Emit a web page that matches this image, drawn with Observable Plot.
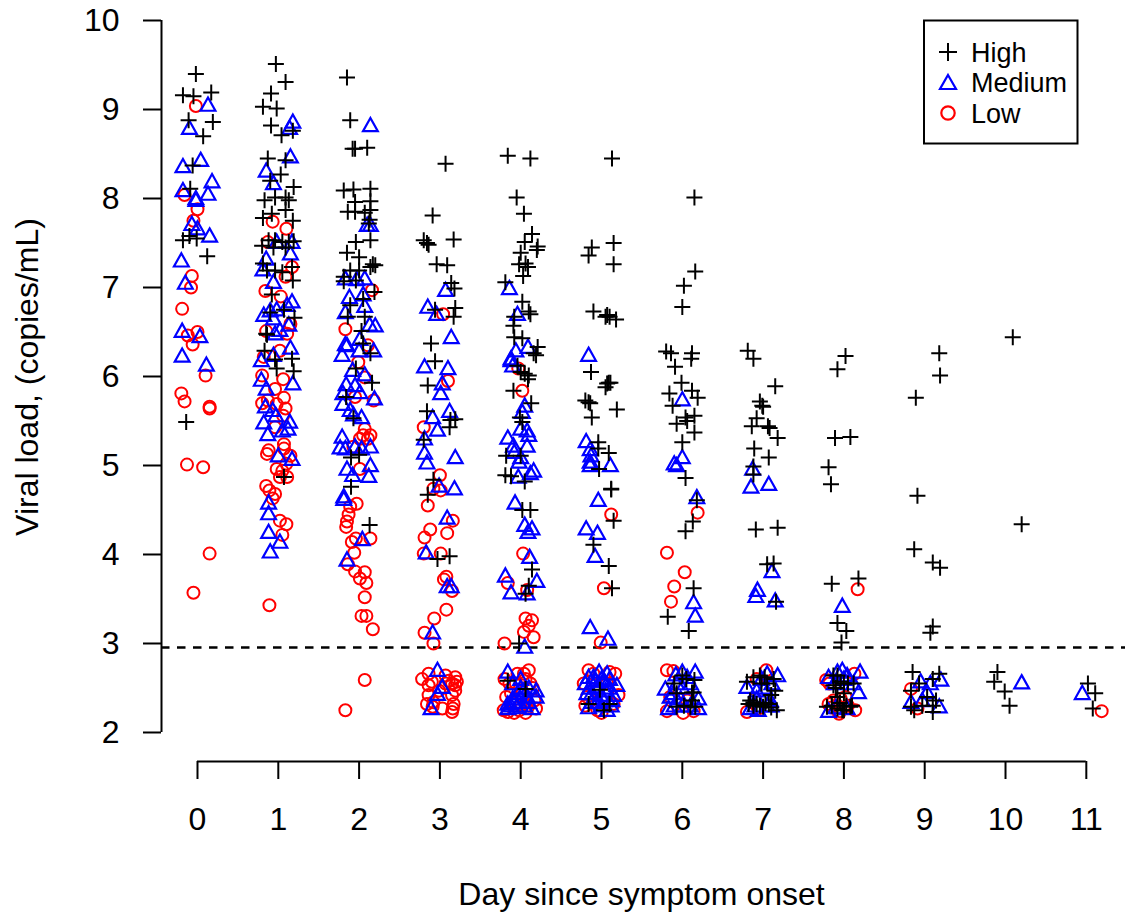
<!DOCTYPE html>
<html><head><meta charset="utf-8">
<style>html,body{margin:0;padding:0;background:#fff}svg{display:block}</style>
<script src="https://cdn.jsdelivr.net/npm/d3@7"></script>
<script src="https://cdn.jsdelivr.net/npm/@observablehq/plot@0.6"></script>
</head><body><div id="chart"></div>
<script>
const days = [0,1,2,3,4,5,6,7,8,9,10,11];
const yTicks = [2,3,4,5,6,7,8,9,10];
const threshold = 2.955;
const groupNames = ["High","Medium","Low"];
const yLabel = "Viral load, (copies/mL)";
const xLabel = "Day since symptom onset";

// each entry: [jitter around the day, viral load]
const highDay0 = [[-.02,9.40],[-.18,9.16],[-.05,9.15],[.17,9.19],[-.11,8.88],[.19,8.86],[.07,8.70],[-.06,8.37],[-.09,8.11],[-.18,7.53],[-.10,7.58],[-.01,7.55],[.12,7.35],[-.14,5.49]];
const mediumDay0 = [[.13,9.05],[-.10,8.79],[.04,8.43],[-.18,8.36],[.18,8.19],[-.18,8.09],[.13,8.05],[-.02,8.00],[-.02,7.98],[-.07,7.71],[0,7.66],[.15,7.58],[-.20,7.30],[-.15,7.05],[-.19,6.51],[.03,6.45],[-.19,6.23],[.11,6.13]];
const lowDay0 = [[-.02,9.04],[-.16,8.04],[0,7.88],[-.05,7.75],[-.07,7.13],[-.08,7.00],[-.19,6.76],[-.12,6.46],[0,6.50],[-.06,6.36],[.10,6.01],[-.20,5.81],[-.16,5.72],[.15,5.66],[.15,5.64],[-.13,5.01],[.07,4.98],[.15,4.01],[-.05,3.57]];

const highDay1 = [[-.03,9.51],[.09,9.31],[-.09,9.18],[-.19,9.03],[-.02,9.01],[-.09,8.82],[.04,8.71],[.18,8.76],[-.13,8.45],[.09,8.43],[.03,8.27],[-.10,8.20],[.19,8.13],[-.17,7.98],[-.04,8.01],[.09,8.01],[.13,7.98],[-.19,7.78],[-.08,7.83],[.09,7.87],[.18,7.75],[-.20,7.47],[-.12,7.53],[-.04,7.53],[.05,7.51],[.13,7.51],[.19,7.52],[-.06,7.45],[.09,7.45],[-.14,7.19],[-.04,7.19],[.05,7.17],[.17,7.23],[.18,7.08],[-.19,7.27],[-.08,6.92],[.07,6.75],[-.10,6.72],[.20,6.66],[-.15,6.48],[-.14,6.47],[-.17,6.29],[-.04,6.19],[.17,6.20],[-.02,6.09],[.19,6.06],[.07,4.87]];
const mediumDay1 = [[.18,8.86],[.14,8.79],[.15,8.47],[-.15,8.31],[-.06,8.17],[.17,7.51],[.15,7.38],[-.02,7.51],[-.15,7.32],[-.19,7.20],[-.06,7.06],[.17,6.84],[.11,6.80],[-.10,6.74],[-.18,6.69],[-.02,6.75],[-.06,6.65],[.02,6.52],[.13,6.58],[-.04,6.48],[.15,6.32],[-.21,6.18],[-.06,6.24],[-.21,5.96],[-.15,5.86],[.18,5.92],[-.16,5.66],[-.07,5.62],[-.03,5.56],[.14,5.49],[-.18,5.48],[-.13,5.35],[.05,5.39],[.12,5.41],[0,5.11],[.17,5.07],[-.12,4.58],[-.12,4.46],[-.12,4.25],[.02,4.14],[-.10,4.03]];
const lowDay1 = [[-.07,7.74],[.10,7.66],[-.13,7.51],[.17,7.23],[.09,7.12],[-.16,6.96],[.03,6.90],[.15,6.59],[-.15,6.51],[.11,6.48],[-.18,6.22],[.02,6.29],[-.20,6.01],[-.04,5.86],[.06,5.97],[.07,5.76],[-.20,5.70],[-.13,5.73],[-.02,5.69],[.09,5.64],[.06,5.56],[-.04,5.43],[.07,5.24],[.07,5.19],[-.12,5.17],[-.14,5.13],[.15,5.11],[-.02,4.96],[.10,5.02],[.05,4.94],[.11,4.87],[.02,4.87],[-.15,4.77],[-.11,4.72],[-.04,4.68],[-.07,4.63],[.02,4.38],[.10,4.34],[.05,4.22],[-.11,3.43]];

const highDay2 = [[-.15,9.36],[-.11,8.88],[-.08,8.56],[-.05,8.56],[.10,8.57],[-.19,8.09],[-.07,8.10],[.14,8.11],[-.05,7.96],[.14,7.97],[-.14,7.85],[-.05,7.85],[.07,7.84],[.14,7.87],[.13,7.76],[.12,7.72],[-.04,7.51],[.14,7.53],[-.15,7.39],[0,7.34],[.17,7.26],[.14,7.23],[.20,7.25],[-.11,7.19],[0,7.19],[-.19,7.12],[-.19,7.07],[-.04,7.08],[.19,6.95],[.05,6.87],[-.11,6.80],[-.14,6.67],[.07,6.67],[.03,6.51],[.05,6.37],[.14,6.26],[-.04,6.09],[.16,5.93],[-.16,5.77],[-.07,5.53],[-.10,5.09],[0,5.12],[-.10,4.76],[.13,4.33]];
const mediumDay2 = [[.14,8.82],[.10,7.70],[.14,7.70],[-.17,7.10],[-.03,7.09],[.07,7.10],[-.12,6.89],[.05,6.92],[.07,6.79],[-.17,6.72],[.13,6.58],[.20,6.57],[.01,6.42],[-.17,6.36],[-.15,6.35],[.18,6.29],[0,6.29],[-.21,6.24],[-.08,6.07],[.07,6.02],[-.16,5.91],[-.05,5.90],[.01,5.82],[-.20,5.81],[.19,5.75],[-.20,5.69],[-.11,5.62],[-.07,5.57],[.03,5.54],[-.21,5.32],[-.235,5.20],[-.17,5.19],[-.05,5.21],[.03,5.19],[.14,5.21],[-.15,4.96],[-.08,4.89],[.14,5.00],[.12,4.88],[-.19,4.65],[-.19,4.62],[.04,4.17],[-.15,3.94]];
const lowDay2 = [[.16,6.97],[-.17,6.53],[.11,6.35],[-.01,6.16],[.07,5.99],[-.05,5.77],[.18,5.73],[.07,5.41],[.05,5.34],[.14,5.34],[.01,5.30],[.11,5.30],[-.07,5.21],[.01,4.96],[-.03,4.57],[-.11,4.54],[-.13,4.45],[-.15,4.37],[-.16,4.31],[-.09,4.14],[-.04,4.18],[.14,4.18],[-.06,4.02],[-.14,3.89],[-.05,3.81],[.07,3.80],[.01,3.73],[.09,3.68],[.07,3.52],[.03,3.31],[.09,3.31],[.17,3.16],[.07,2.59],[-.17,2.25]];

const highDay3 = [[.07,8.39],[-.09,7.81],[-.20,7.53],[-.16,7.50],[-.14,7.48],[.17,7.54],[-.04,7.26],[.09,7.25],[.14,7.05],[.18,6.99],[-.06,6.75],[.19,6.77],[.17,6.67],[-.11,6.37],[-.06,6.17],[-.15,5.90],[-.16,5.61],[.13,5.51],[.19,5.52],[.12,5.43],[-.20,5.29],[-.08,4.84],[-.15,4.67],[-.03,3.95],[.12,3.98]];
const mediumDay3 = [[.07,6.97],[-.15,6.78],[-.04,6.70],[.14,6.44],[-.19,6.11],[.10,6.09],[.03,5.92],[.01,5.81],[.12,5.61],[-.09,5.54],[-.03,5.40],[-.19,5.30],[-.19,5.14],[.19,5.09],[-.16,5.03],[-.01,4.77],[.18,4.74],[.09,4.41],[-.17,4.02],[.09,3.64],[.14,3.64],[-.09,3.12],[-.03,2.70],[.03,2.51],[-.03,2.43],[-.11,2.27]];
const lowDay3 = [[.04,6.70],[.10,5.95],[-.20,5.43],[0,4.89],[-.08,4.74],[.01,4.72],[-.15,4.55],[.16,4.38],[-.12,4.28],[-.19,4.19],[.09,4.24],[-.20,4.01],[.01,4.01],[.08,3.75],[.05,3.72],[.15,3.59],[.08,3.38],[-.07,3.28],[-.19,3.12],[-.08,3.00],[-.22,2.60],[-.14,2.66],[.07,2.64],[.19,2.62],[-.10,2.57],[-.14,2.53],[.07,2.55],[.15,2.55],[.19,2.53],[-.14,2.42],[.19,2.47],[.15,2.42],[.03,2.27],[-.16,2.32],[-.08,2.34],[.17,2.32],[.16,2.27],[.15,2.23],[-.09,2.29],[-.01,2.47],[.21,2.57],[.11,2.58]];

const highDay4 = [[-.16,8.48],[.12,8.45],[-.05,8.01],[.04,7.83],[.14,7.60],[.05,7.51],[.21,7.46],[.20,7.42],[0,7.39],[.06,7.27],[-.02,7.26],[.09,7.23],[.03,7.13],[-.19,7.06],[.02,6.84],[.10,6.73],[.12,6.70],[-.08,6.67],[-.09,6.57],[-.08,6.44],[.02,6.43],[.21,6.33],[.16,6.26],[.19,6.24],[-.04,6.12],[0,6.05],[.05,6.03],[.10,6.01],[.09,5.97],[-.09,5.84],[.13,5.70],[-.01,5.54],[.02,5.49],[-.18,5.11],[0,5.11],[-.19,4.89],[-.12,4.88],[.05,4.82],[.02,4.50],[.12,4.50],[.14,3.83],[.10,3.65],[.06,3.56],[-.02,3.00],[-.16,2.58],[.06,2.49]];
const mediumDay4 = [[-.14,6.99],[-.04,6.70],[.09,6.33],[-.06,6.29],[-.12,6.20],[-.12,6.18],[-.10,6.12],[.05,5.67],[.02,5.60],[0,5.41],[.08,5.39],[-.16,5.31],[.10,5.34],[-.09,5.22],[.08,5.22],[-.08,5.15],[0,5.09],[-.02,5.04],[-.03,4.87],[.16,4.94],[.12,4.91],[-.07,4.58],[.05,4.33],[.14,4.29],[.09,4.25],[.11,3.97],[-.19,3.76],[.20,3.70],[-.12,3.57],[.08,3.56],[.05,2.96],[-.16,2.68],[0,2.60],[.19,2.47],[-.04,2.44],[-.10,2.38],[.08,2.40],[.19,2.40],[-.16,2.32],[-.08,2.34],[-.16,2.27],[.14,2.27],[.04,2.47],[-.02,2.34],[-.10,2.55],[-.12,2.30],[-.05,2.28],[.05,2.30],[.10,2.34],[0,2.50],[.10,2.50]];
const lowDay4 = [[-.03,6.09],[.02,5.84],[.03,4.01],[-.16,3.68],[.08,3.60],[.06,3.28],[.14,3.26],[.10,3.20],[.04,3.13],[.16,3.07],[-.20,3.00],[.10,2.70],[-.04,2.66],[.04,2.66],[.06,2.60],[-.20,2.60],[-.06,2.55],[.12,2.55],[.17,2.36],[-.21,2.25],[-.08,2.22],[.06,2.22],[-.16,2.23],[-.02,2.25],[.19,2.27],[-.12,2.44],[0,2.42],[-.14,2.55],[-.18,2.40],[.10,2.30],[0,2.30],[.15,2.50]];

const highDay5 = [[.13,8.45],[-.12,7.45],[.15,7.50],[-.16,7.36],[.15,7.26],[-.10,6.73],[.05,6.67],[.07,6.69],[.10,6.67],[.18,6.64],[-.13,6.05],[.05,5.88],[.07,5.92],[.09,5.93],[.11,5.93],[-.20,5.73],[-.16,5.71],[-.14,5.70],[.19,5.63],[-.12,5.54],[-.04,5.26],[.09,5.14],[-.03,4.96],[-.04,5.19],[.12,4.74],[.12,4.73],[.15,4.38],[-.10,4.11],[.09,3.87],[.13,3.62],[-.02,2.48],[-.16,2.32],[.03,2.25],[.10,2.32]];
const mediumDay5 = [[-.16,6.24],[-.19,5.27],[-.14,5.18],[-.13,5.11],[-.14,5.04],[-.14,5.00],[.11,5.00],[-.04,4.61],[-.19,4.29],[-.05,4.24],[-.08,3.98],[-.14,3.18],[.08,3.05],[-.03,2.68],[-.16,2.62],[.07,2.66],[.19,2.53],[-.20,2.55],[-.07,2.58],[.03,2.58],[-.12,2.44],[-.01,2.42],[.15,2.42],[-.18,2.44],[-.05,2.34],[.07,2.25],[.13,2.36],[-.12,2.34],[.05,2.47],[-.10,2.62],[0,2.60],[.10,2.60],[-.15,2.50],[-.05,2.50],[.10,2.50],[-.10,2.38],[.03,2.36],[-.16,2.28],[0,2.30],[.12,2.30]];
const lowDay5 = [[.12,4.45],[.03,3.62],[-.01,3.01],[-.16,2.70],[.17,2.66],[-.22,2.55],[.21,2.42],[-.05,2.25],[0,2.22],[-.18,2.40],[.15,2.32],[.07,2.55],[-.07,2.47],[-.10,2.66],[.10,2.68],[-.20,2.30]];

const highDay6 = [[.15,8.01],[.16,7.18],[.02,7.02],[0,6.78],[-.20,6.28],[-.14,6.26],[.12,6.26],[.11,6.20],[-.09,6.11],[-.01,5.93],[-.16,5.81],[.12,5.84],[.19,5.76],[-.12,5.67],[.15,5.56],[.04,5.54],[-.07,5.47],[.06,5.50],[.15,5.37],[0,5.26],[.04,4.86],[.18,4.61],[.13,4.37],[.04,4.26],[.14,3.62],[-.18,3.30],[.08,3.14],[0,2.64],[.15,2.59],[-.07,2.44],[.14,2.45],[.12,2.36],[-.07,2.29],[.16,2.29],[.10,2.29],[-.10,2.55],[.05,2.60],[.02,2.30],[.12,2.45]];
const mediumDay6 = [[0,5.74],[0,5.09],[-.10,5.02],[-.07,5.00],[.18,4.64],[.14,3.46],[.16,3.31],[.16,2.68],[0,2.68],[-.21,2.49],[-.07,2.55],[.06,2.62],[-.11,2.44],[.20,2.38],[-.17,2.27],[.20,2.27],[-.02,2.38],[-.08,2.65],[-.15,2.40],[0,2.50],[.10,2.55],[0,2.30],[.10,2.30],[-.10,2.30]];
const lowDay6 = [[.19,4.47],[-.19,4.02],[.03,3.80],[-.10,3.64],[-.14,3.47],[-.19,2.70],[-.11,2.69],[-.19,2.24],[.01,2.22],[.14,2.24],[-.15,2.40],[.06,2.36]];

const highDay7 = [[-.19,6.29],[-.12,6.20],[.15,5.89],[-.04,5.72],[-.01,5.67],[0,5.66],[-.08,5.53],[-.14,5.44],[.06,5.44],[.08,5.42],[.18,5.31],[-.11,5.19],[.07,5.09],[-.12,4.99],[-.12,4.90],[-.09,4.28],[.18,4.30],[.05,3.89],[.13,3.90],[.16,3.47],[-.20,2.57],[-.04,2.64],[.02,2.62],[.13,2.60],[.15,2.47],[-.18,2.32],[-.12,2.34],[-.08,2.32],[.07,2.32],[.17,2.25],[-.16,2.36],[0,2.29],[-.12,2.62],[-.02,2.55],[.05,2.55],[-.12,2.30],[-.04,2.30],[.03,2.33],[.10,2.42],[.10,2.28]];
const mediumDay7 = [[-.13,4.96],[-.15,4.76],[.07,4.79],[.11,3.81],[-.07,3.60],[-.09,3.53],[.15,3.48],[.05,2.66],[.18,2.64],[-.20,2.51],[-.08,2.47],[.11,2.55],[-.16,2.27],[-.06,2.25],[.09,2.36],[-.08,2.38],[-.02,2.60],[.02,2.50],[-.10,2.30],[.05,2.30],[.10,2.30]];
const lowDay7 = [[.04,2.70],[-.08,2.60],[-.20,2.23],[-.06,2.27],[-.10,2.38]];

const highDay8 = [[.02,6.23],[-.08,6.08],[-.11,5.31],[.08,5.32],[-.19,4.98],[-.16,4.79],[-.15,3.67],[.18,3.73],[-.08,3.23],[.03,3.14],[-.03,3.01],[-.13,2.64],[.12,2.55],[-.13,2.53],[0,2.44],[-.21,2.29],[-.08,2.27],[0,2.25],[.08,2.29],[-.04,2.57],[-.08,2.64],[-.10,2.50],[.05,2.55],[-.15,2.30],[-.05,2.33],[.03,2.30],[-.02,2.25],[.10,2.30],[-.08,2.40],[0,2.55]];
const mediumDay8 = [[-.02,3.42],[-.08,2.68],[.20,2.68],[-.19,2.62],[.04,2.64],[.18,2.45],[-.19,2.24],[-.02,2.70],[.04,2.27],[-.12,2.55],[.12,2.55],[0,2.60],[-.10,2.28]];
const lowDay8 = [[.17,3.61],[.13,2.66],[-.22,2.59],[-.19,2.32],[-.04,2.38],[.02,2.40],[-.06,2.21],[.14,2.25],[-.13,2.36],[-.15,2.28],[-.18,2.55],[-.05,2.24],[.05,2.30]];

const highDay9 = [[.18,6.26],[.19,6.01],[-.11,5.76],[-.09,4.66],[-.13,4.06],[.10,3.91],[.19,3.85],[.10,3.19],[.07,3.12],[-.15,2.68],[.18,2.66],[.10,2.60],[-.07,2.55],[-.17,2.47],[.03,2.40],[.14,2.36],[-.17,2.29],[-.03,2.30],[-.13,2.25],[.10,2.23],[.10,2.30]];
const mediumDay9 = [[.20,2.59],[-.05,2.57],[.07,2.55],[.03,2.45],[-.17,2.34],[.18,2.29],[-.03,2.36]];
const lowDay9 = [[-.17,2.49],[-.09,2.27]];

const highDay10 = [[.09,6.44],[.20,4.34],[-.10,2.68],[-.14,2.57],[-.01,2.46],[.05,2.30]];
const mediumDay10 = [[.20,2.56]];
const lowDay10 = [];

const highDay11 = [[.02,2.55],[.11,2.44],[.08,2.27]];
const mediumDay11 = [[-.05,2.44]];
const lowDay11 = [[.19,2.24]];

const highByDay = [highDay0,highDay1,highDay2,highDay3,highDay4,highDay5,highDay6,highDay7,highDay8,highDay9,highDay10,highDay11];
const mediumByDay = [mediumDay0,mediumDay1,mediumDay2,mediumDay3,mediumDay4,mediumDay5,mediumDay6,mediumDay7,mediumDay8,mediumDay9,mediumDay10,mediumDay11];
const lowByDay = [lowDay0,lowDay1,lowDay2,lowDay3,lowDay4,lowDay5,lowDay6,lowDay7,lowDay8,lowDay9,lowDay10,lowDay11];

const flatten = byDay => byDay.flatMap((pts, d) => pts.map(([j, v]) => ({x: days[d] + j, y: v})));

const plusSym = {draw(c){c.moveTo(-8,0);c.lineTo(8,0);c.moveTo(0,-8);c.lineTo(0,8);}};
const triSym = {draw(c){c.moveTo(0,-7.5);c.lineTo(7.4,5.7);c.lineTo(-7.4,5.7);c.closePath();}};
const circSym = {draw(c){c.moveTo(6,0);c.arc(0,0,6,0,2*Math.PI);}};

const xMin = -0.4455, xMax = 11.485, yBase = 1.674;
const font = "'Liberation Sans', Arial, Helvetica, sans-serif";
const textSize = 32;

const plot = Plot.plot({
  width: 1131, height: 913,
  marginLeft: 161, marginRight: 6, marginTop: 20, marginBottom: 152,
  style: {fontFamily: font, background: "#fff", color: "#000"},
  x: {domain: [xMin, xMax]},
  y: {domain: [yBase, 10]},
  marks: [
    Plot.ruleY([threshold], {stroke: "#000", strokeWidth: 2.4, strokeDasharray: "8.5 7.5"}),
    Plot.dot(flatten(lowByDay), {x: "x", y: "y", symbol: circSym, fill: "none", stroke: "#ff0000", strokeWidth: 2}),
    Plot.dot(flatten(mediumByDay), {x: "x", y: "y", symbol: triSym, fill: "none", stroke: "#0000ff", strokeWidth: 2.2}),
    Plot.dot(flatten(highByDay), {x: "x", y: "y", symbol: plusSym, fill: "none", stroke: "#000", strokeWidth: 2}),
    Plot.ruleX([xMin], {y1: yTicks[0], y2: yTicks[yTicks.length - 1], stroke: "#000", strokeWidth: 2}),
    Plot.ruleY([yBase], {x1: days[0], x2: days[days.length - 1], stroke: "#000", strokeWidth: 2}),
    Plot.axisY({ticks: yTicks, tickSize: 18, tickPadding: 24, fontSize: textSize, label: null, stroke: "#000", strokeWidth: 2, tickFormat: d => d}),
    Plot.axisX({ticks: days, tickSize: 18, tickPadding: 28, fontSize: textSize, label: null, stroke: "#000", strokeWidth: 2, tickFormat: d => d}),
    Plot.text([yLabel], {frameAnchor: "left", textAnchor: "middle", dx: -134, dy: -14, rotate: -90, fontSize: textSize, fill: "#000"}),
    Plot.text([xLabel], {frameAnchor: "bottom", dx: -2, dy: 143, fontSize: textSize, fill: "#000"})
  ]
});

// legend box, top right
const svg = d3.select(plot);
const legend = svg.append("g").attr("font-family", font).attr("font-size", 27).attr("fill", "#000").attr("text-anchor", "start");
legend.append("rect").attr("x", 924).attr("y", 20.5).attr("width", 153.5).attr("height", 123).attr("fill", "#fff").attr("stroke", "#000").attr("stroke-width", 2);
const legendPaths = [
  {p: "M-9,0H9M0,-9V9", s: "#000", w: 2},
  {p: "M0,-7.5L8,6.5H-8Z", s: "#0000ff", w: 2.2},
  {p: "M6.7,0A6.7,6.7 0 1 1 -6.7,0A6.7,6.7 0 1 1 6.7,0Z", s: "#ff0000", w: 2.2}
];
groupNames.forEach((name, i) => {
  const cy = 52 + i * 30.5;
  legend.append("path").attr("d", legendPaths[i].p).attr("transform", `translate(948,${cy})`).attr("fill", "none").attr("stroke", legendPaths[i].s).attr("stroke-width", legendPaths[i].w);
  legend.append("text").attr("x", 971).attr("y", cy + 9.5).text(name);
});

document.getElementById("chart").appendChild(plot);
</script></body></html>
